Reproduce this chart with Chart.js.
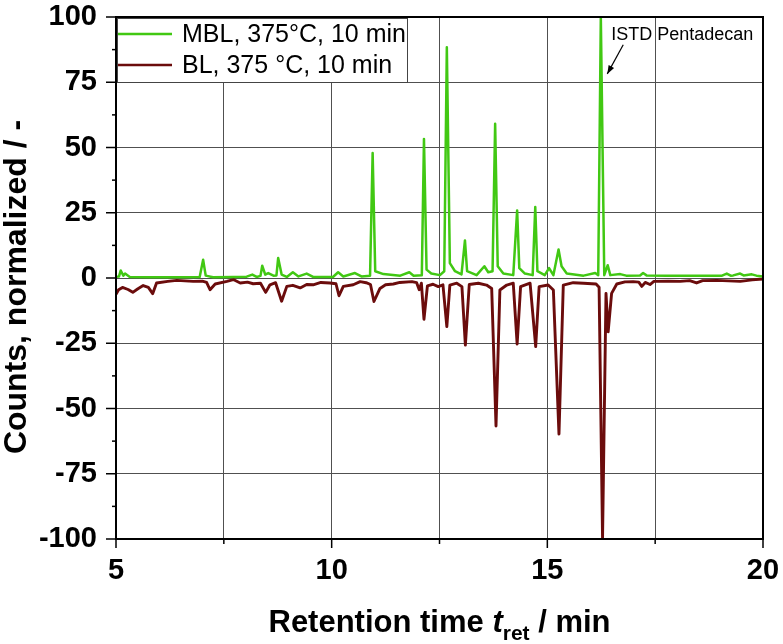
<!DOCTYPE html>
<html><head><meta charset="utf-8">
<script src="https://cdn.jsdelivr.net/npm/chart.js@4.4.1/dist/chart.umd.min.js"></script>
<style>html,body{margin:0;padding:0;background:#fff}#wrap{width:783px;height:644px}</style>
</head><body><div id="wrap"><canvas id="c" width="783" height="644" style="width:783px;height:644px"></canvas></div>
<script>
const seriesNames = ['MBL, 375°C, 10 min', 'BL, 375 °C, 10 min'];
const xAxisRange = [5, 20];
const yAxisRange = [-100, 100];
const annotationText = 'ISTD Pentadecan';

const mblTime = [5.00,5.07,5.11,5.17,5.21,5.32,5.78,6.55,6.94,7.02,7.08,7.25,7.72,8.03,8.16,8.26,8.35,8.39,8.46,8.53,8.65,8.72,8.76,8.84,8.96,9.10,9.23,9.42,9.57,10.03,10.15,10.27,10.54,10.69,10.89,10.95,11.01,11.20,11.59,11.80,11.90,12.09,12.14,12.20,12.31,12.51,12.61,12.67,12.74,12.86,13.01,13.09,13.14,13.36,13.54,13.63,13.73,13.79,13.85,13.98,14.21,14.30,14.35,14.48,14.66,14.72,14.77,14.94,15.04,15.14,15.26,15.33,15.45,15.84,16.11,16.18,16.24,16.32,16.40,16.46,16.69,16.83,17.15,17.22,17.30,17.76,18.53,19.05,19.16,19.25,19.31,19.47,19.55,19.74,19.85,20.00];
const mblCounts = [0.5,0.6,2.9,0.9,1.7,0.4,0.3,0.3,0.4,7.0,0.9,0.3,0.4,0.5,1.3,0.4,0.8,4.7,1.3,1.9,0.9,1.0,7.7,1.3,0.4,2.2,0.6,1.7,0.4,0.4,2.2,0.6,1.9,0.6,0.9,47.9,2.6,1.5,0.9,2.2,0.9,1.1,53.3,3.2,1.7,1.1,2.6,88.4,5.7,2.6,1.4,14.4,2.6,1.1,4.5,2.2,2.6,59.1,4.5,1.7,1.1,25.9,3.8,1.7,1.1,27.2,2.6,1.1,3.8,1.1,10.9,4.5,1.7,0.9,1.9,1.1,100,1.1,4.9,1.1,1.5,0.9,1.0,1.9,1.0,0.9,0.9,0.9,1.7,0.9,1.0,1.7,1.0,1.4,0.9,0.6];

const blTime = [5.00,5.06,5.15,5.28,5.39,5.50,5.63,5.75,5.85,5.94,6.20,6.41,6.60,6.79,7.00,7.10,7.18,7.30,7.57,7.72,7.88,8.05,8.18,8.35,8.47,8.57,8.70,8.84,8.96,9.10,9.27,9.42,9.57,9.75,9.96,10.10,10.17,10.27,10.50,10.66,10.80,10.90,10.98,11.12,11.25,11.43,11.58,11.86,11.97,12.03,12.08,12.14,12.22,12.35,12.47,12.58,12.67,12.74,12.90,13.02,13.10,13.19,13.40,13.59,13.71,13.81,13.90,14.06,14.21,14.30,14.38,14.60,14.73,14.81,15.02,15.14,15.27,15.37,15.60,15.84,16.13,16.20,16.28,16.36,16.41,16.49,16.61,16.80,16.99,17.12,17.19,17.27,17.38,17.47,17.80,18.08,18.30,18.46,18.60,18.93,19.20,19.47,19.75,20.00];
const blCounts = [-6.2,-4.5,-3.6,-4.4,-5.5,-4.2,-2.9,-3.6,-6.0,-1.9,-1.3,-0.9,-1.1,-1.3,-1.2,-1.7,-4.5,-2.3,-1.3,-0.6,-1.9,-1.6,-2.2,-2.0,-5.5,-2.6,-1.8,-8.9,-3.2,-2.8,-3.8,-2.5,-2.6,-1.7,-1.9,-2.2,-6.8,-3.2,-2.6,-1.4,-1.8,-2.5,-9.0,-4.0,-2.6,-2.3,-1.7,-1.4,-1.8,-4.5,-2.0,-15.8,-3.0,-2.4,-3.3,-2.6,-18.6,-2.7,-2.0,-3.3,-25.7,-2.5,-2.0,-2.7,-4.0,-56.7,-4.6,-2.7,-2.0,-25.3,-3.3,-2.0,-26.3,-3.3,-2.7,-4.6,-59.8,-2.7,-1.8,-2.0,-2.3,-3.5,-99.7,-5.9,-20.6,-5.9,-2.3,-1.5,-1.4,-1.6,-3.2,-1.7,-2.5,-1.3,-1.2,-1.3,-1.0,-1.9,-1.0,-0.9,-1.1,-1.3,-0.7,-0.4];

const GREEN = '#41c813';
const BROWN = '#6b0c0c';
const GRID = '#505050';

const toPts = (t, v) => t.map((x, i) => ({x: x, y: v[i]}));
const noPad = s => { s.paddingTop = 0; s.paddingBottom = 0; s.paddingLeft = 0; s.paddingRight = 0; };

const decorPlugin = {
  id: 'decor',
  afterDraw(chart) {
    const {ctx, chartArea: a, scales: {x: xs, y: ys}} = chart;
    ctx.save();
    ctx.strokeStyle = '#000'; ctx.lineWidth = 1.5;
    xs.ticks.forEach(t => {
      const px = xs.getPixelForValue(t.value);
      const major = Math.abs(t.value % 5) < 1e-6;
      ctx.beginPath(); ctx.moveTo(px, a.bottom); ctx.lineTo(px, a.bottom + (major ? 9 : 5)); ctx.stroke();
    });
    ys.ticks.forEach(t => {
      const py = ys.getPixelForValue(t.value);
      const major = Math.abs(t.value % 25) < 1e-6;
      ctx.beginPath(); ctx.moveTo(a.left, py); ctx.lineTo(a.left - (major ? 10 : 4), py); ctx.stroke();
    });
    ctx.lineWidth = 2; ctx.strokeStyle = '#000';
    ctx.strokeRect(a.left, a.top, a.right - a.left, a.bottom - a.top);
    const lx = a.left + 1, ly = a.top + 1, lw = 290, lh = 64;
    ctx.fillStyle = '#fff'; ctx.fillRect(lx, ly, lw, lh);
    ctx.lineWidth = 1; ctx.strokeStyle = '#444';
    ctx.strokeRect(lx + 0.5, ly + 0.5, lw, lh);
    const ds = chart.data.datasets;
    ctx.font = '25px "Liberation Sans", Arial, sans-serif';
    ctx.textBaseline = 'middle'; ctx.textAlign = 'left';
    [[ds[0], a.top + 17], [ds[1], a.top + 48]].forEach(([d, yy]) => {
      ctx.strokeStyle = d.borderColor; ctx.lineWidth = 2.5;
      ctx.beginPath(); ctx.moveTo(a.left + 2, yy); ctx.lineTo(a.left + 56, yy); ctx.stroke();
      ctx.fillStyle = '#000'; ctx.fillText(d.label, a.left + 66, yy + 1);
    });
    const an = chart.options.plugins.decor;
    ctx.font = '18px "Liberation Sans", Arial, sans-serif';
    ctx.textBaseline = 'alphabetic'; ctx.fillStyle = '#000';
    ctx.fillText(an.text, xs.getPixelForValue(an.textX), ys.getPixelForValue(an.textY));
    const x1 = xs.getPixelForValue(an.arrowFrom[0]), y1 = ys.getPixelForValue(an.arrowFrom[1]);
    const x2 = xs.getPixelForValue(an.arrowTo[0]), y2 = ys.getPixelForValue(an.arrowTo[1]);
    ctx.strokeStyle = '#000'; ctx.lineWidth = 1.2;
    ctx.beginPath(); ctx.moveTo(x1, y1); ctx.lineTo(x2, y2); ctx.stroke();
    const ang = Math.atan2(y2 - y1, x2 - x1), hl = 9;
    ctx.beginPath(); ctx.moveTo(x2, y2);
    ctx.lineTo(x2 - hl * Math.cos(ang - 0.35), y2 - hl * Math.sin(ang - 0.35));
    ctx.lineTo(x2 - hl * Math.cos(ang + 0.35), y2 - hl * Math.sin(ang + 0.35));
    ctx.closePath(); ctx.fill();
    const big = 'bold 31px "Liberation Sans", Arial, sans-serif';
    const ital = 'italic bold 31px "Liberation Sans", Arial, sans-serif';
    const small = 'bold 21px "Liberation Sans", Arial, sans-serif';
    const parts = [['Retention time ', big, 0], ['t', ital, 0], ['ret', small, 8], [' / min', big, 0]];
    let total = 0;
    parts.forEach(p => { ctx.font = p[1]; p.w = ctx.measureText(p[0]).width; total += p.w; });
    let cx = (a.left + a.right) / 2 - total / 2;
    const base = 632;
    ctx.textAlign = 'left';
    parts.forEach(p => { ctx.font = p[1]; ctx.fillText(p[0], cx, base + p[2]); cx += p.w; });
    ctx.translate(26, 287); ctx.rotate(-Math.PI / 2);
    ctx.font = 'bold 32px "Liberation Sans", Arial, sans-serif';
    ctx.textAlign = 'center';
    ctx.fillText('Counts, normalized / -', 0, 0);
    ctx.restore();
  }
};

new Chart(document.getElementById('c'), {
  type: 'line',
  data: {
    datasets: [
      {label: seriesNames[0], data: toPts(mblTime, mblCounts), borderColor: GREEN, borderWidth: 2.5, borderJoinStyle: 'round', pointRadius: 0, tension: 0, order: 1},
      {label: seriesNames[1], data: toPts(blTime, blCounts), borderColor: BROWN, borderWidth: 2.9, borderJoinStyle: 'round', pointRadius: 0, tension: 0, order: 2}
    ]
  },
  options: {
    responsive: false, animation: false,
    layout: {padding: {top: 17, right: 20, left: 0, bottom: 0}},
    plugins: {
      legend: {display: false}, tooltip: {enabled: false},
      decor: {text: annotationText, textX: 16.48, textY: 91.3, arrowFrom: [16.76, 89.4], arrowTo: [16.39, 78.2]}
    },
    scales: {
      x: {
        type: 'linear', min: xAxisRange[0], max: xAxisRange[1],
        afterFit: s => { s.height = 105; noPad(s); },
        border: {display: false},
        grid: {color: GRID, lineWidth: 1, drawTicks: false},
        ticks: {stepSize: 2.5, padding: 15, color: '#000', font: {family: '"Liberation Sans", Arial, sans-serif', size: 29, weight: 'bold'},
          callback: v => (Math.abs(v % 5) < 1e-6 ? String(v) : ''), maxRotation: 0, autoSkip: false}
      },
      y: {
        min: yAxisRange[0], max: yAxisRange[1],
        afterFit: s => { s.width = 116; noPad(s); },
        border: {display: false},
        grid: {drawTicks: false, lineWidth: 1, color: c => (Math.abs(c.tick.value % 25) < 1e-6 ? GRID : 'rgba(0,0,0,0)')},
        ticks: {stepSize: 12.5, padding: 19, color: '#000', font: {family: '"Liberation Sans", Arial, sans-serif', size: 29, weight: 'bold'},
          callback: v => (Math.abs(v % 25) < 1e-6 ? String(v) : ''), autoSkip: false}
      }
    }
  },
  plugins: [decorPlugin]
});
</script></body></html>
